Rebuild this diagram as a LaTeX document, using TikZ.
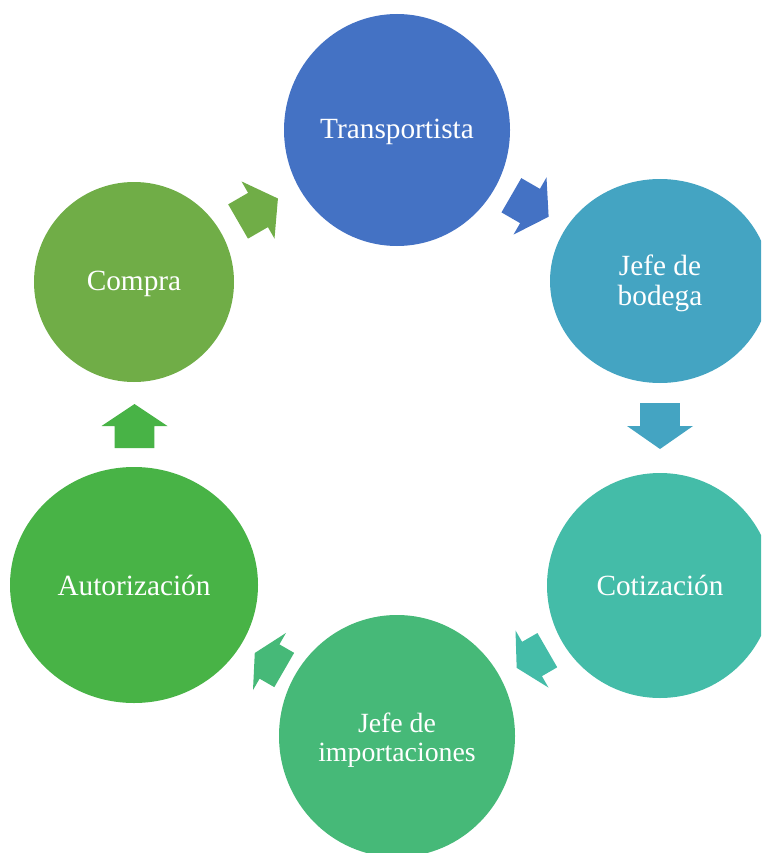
\documentclass[tikz,border=0pt]{standalone}
\usepackage{fontspec}
\setmainfont{Liberation Serif}
\usetikzlibrary{shapes.geometric}
\definecolor{cTrans}{HTML}{4472C4}
\definecolor{cBod}{HTML}{44A4C2}
\definecolor{cCot}{HTML}{44BCA8}
\definecolor{cImp}{HTML}{46B978}
\definecolor{cAut}{HTML}{48B346}
\definecolor{cComp}{HTML}{70AD47}
\tikzset{
  bubble/.style={ellipse, inner sep=0pt, draw=none},
  lbl/.style={text=white, inner sep=0pt, font=\fontsize{29.3}{30}\selectfont},
  lblsmall/.style={text=white, inner sep=0pt, font=\fontsize{27.8}{29}\selectfont},
}
% #1 centre, #2 angle, #3 half length, #4 colour
\newcommand\blockarrow[4]{%
  \fill[#4, shift={#1}, rotate=#2]
    (-#3pt,-19.8pt) -- (0pt,-19.8pt) -- (0pt,-33pt) -- (#3pt,0pt)
    -- (0pt,33pt) -- (0pt,19.8pt) -- (-#3pt,19.8pt) -- cycle;}
\begin{document}
\begin{tikzpicture}[x=1pt,y=-1pt]
\useasboundingbox (0,0) rectangle (761,853);
\clip (0,0) rectangle (761,853);
% circles
\node[bubble, fill=cTrans, minimum width=226pt, minimum height=232pt] (trans) at (397,130) {};
\node[bubble, fill=cBod,   minimum width=220pt, minimum height=204pt] (bod)   at (660,281) {};
\node[bubble, fill=cCot,   minimum width=226pt, minimum height=225pt] (cot)   at (660,585.5) {};
\node[bubble, fill=cImp,   minimum width=236pt, minimum height=242pt] (imp)   at (397,736) {};
\node[bubble, fill=cAut,   minimum width=248pt, minimum height=236pt] (aut)   at (134,585) {};
\node[bubble, fill=cComp,  minimum width=200pt, minimum height=200pt] (comp)  at (134,282) {};
% labels
\node[lbl, anchor=base] (trans-t) at (397,139) {Transportista};
\node[lbl, anchor=base, align=center] (bod-t) at (660,305) {Jefe de\\bodega};
\node[lbl, anchor=base] (cot-t) at (660,595) {Cotización};
\node[lblsmall, anchor=base, align=center] (imp-t) at (397,761) {Jefe de\\importaciones};
\node[lbl, anchor=base] (aut-t) at (134,595) {Autorización};
\node[lbl, anchor=base] (comp-t) at (134,290) {Compra};
% block arrows
\blockarrow{(258,210)}{30}{23}{cComp}
\blockarrow{(530,206)}{-30}{21.5}{cTrans}
\blockarrow{(660,426)}{-90}{23}{cBod}
\blockarrow{(532,659)}{-150}{17.7}{cCot}
\blockarrow{(269.5,661.5)}{150}{17}{cImp}
\blockarrow{(134.5,426)}{90}{22}{cAut}
\end{tikzpicture}
\end{document}
